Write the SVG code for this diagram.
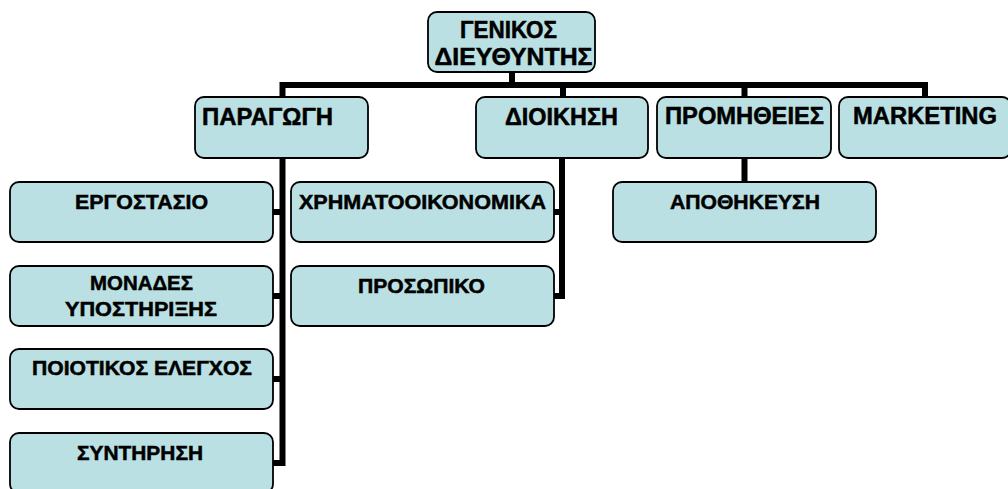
<svg xmlns="http://www.w3.org/2000/svg" width="1008" height="489" viewBox="0 0 1008 489">
<style>
.box{fill:#bae0e3;stroke:#000;stroke-width:1.8}
.t{font-family:"Liberation Sans",Arial,sans-serif;font-weight:bold;fill:#000;stroke:#000;stroke-width:0.5}
.m{font-size:23px}
.s{font-size:20px}
.c{text-anchor:middle}
.ln{stroke:#000;stroke-width:6;fill:none;stroke-linecap:butt}
</style>
<rect width="1008" height="489" fill="#fff"/>
<g id="connectors">
<path class="ln" d="M512 72V85M279.5 85H928M282.5 82V97M563 82V97M744.5 82V97M925 82V97"/>
<path class="ln" d="M282.5 158V466M272 212H285.5M272 296H285.5M272 379H285.5M272 463H285.5"/>
<path class="ln" d="M562 158V299M553 212H565M553 296H565"/>
<path class="ln" d="M744.5 158V182"/>
</g>
<g id="n-gd"><rect class="box" x="428" y="12" width="167" height="60" rx="9"/><text class="t m c" x="508.5" y="38" textLength="97" lengthAdjust="spacingAndGlyphs">ΓΕΝΙΚΟΣ</text><text class="t m c" x="513.5" y="65" textLength="158" lengthAdjust="spacingAndGlyphs">ΔΙΕΥΘΥΝΤΗΣ</text></g>
<g id="n-paragogi"><rect class="box" x="195" y="97" width="173" height="61" rx="9"/><text class="t m" x="202" y="125" textLength="131" lengthAdjust="spacingAndGlyphs">ΠΑΡΑΓΩΓΗ</text></g>
<g id="n-dioikisi"><rect class="box" x="476" y="97" width="172" height="61" rx="9"/><text class="t m c" x="561.5" y="125" textLength="113" lengthAdjust="spacingAndGlyphs">ΔΙΟΙΚΗΣΗ</text></g>
<g id="n-promitheies"><rect class="box" x="657" y="97" width="174" height="61" rx="9"/><text class="t m c" x="744.5" y="124" textLength="159" lengthAdjust="spacingAndGlyphs">ΠΡΟΜΗΘΕΙΕΣ</text></g>
<g id="n-marketing"><rect class="box" x="839" y="97" width="172" height="61" rx="9"/><text class="t m c" x="925" y="124" textLength="144" lengthAdjust="spacingAndGlyphs">MARKETING</text></g>
<g id="n-ergostasio"><rect class="box" x="10" y="182" width="263" height="60" rx="9"/><text class="t s c" x="141.5" y="209" textLength="133" lengthAdjust="spacingAndGlyphs">ΕΡΓΟΣΤΑΣΙΟ</text></g>
<g id="n-monades"><rect class="box" x="10" y="266" width="263" height="60" rx="9"/><text class="t s c" x="141.5" y="290" textLength="103" lengthAdjust="spacingAndGlyphs">ΜΟΝΑΔΕΣ</text><text class="t s c" x="141" y="316" textLength="152" lengthAdjust="spacingAndGlyphs">ΥΠΟΣΤΗΡΙΞΗΣ</text></g>
<g id="n-poiotikos"><rect class="box" x="10" y="349" width="263" height="60" rx="9"/><text class="t s c" x="142" y="375" textLength="220" lengthAdjust="spacingAndGlyphs">ΠΟΙΟΤΙΚΟΣ ΕΛΕΓΧΟΣ</text></g>
<g id="n-syntirisi"><rect class="box" x="10" y="433" width="263" height="60" rx="9"/><text class="t s c" x="140" y="460" textLength="126" lengthAdjust="spacingAndGlyphs">ΣΥΝΤΗΡΗΣΗ</text></g>
<g id="n-xrimato"><rect class="box" x="291" y="182" width="263" height="60" rx="9"/><text class="t s c" x="422.5" y="209" textLength="247" lengthAdjust="spacingAndGlyphs">ΧΡΗΜΑΤΟΟΙΚΟΝΟΜΙΚΑ</text></g>
<g id="n-prosopiko"><rect class="box" x="291" y="266" width="263" height="60" rx="9"/><text class="t s c" x="421.5" y="293" textLength="127" lengthAdjust="spacingAndGlyphs">ΠΡΟΣΩΠΙΚΟ</text></g>
<g id="n-apothikeusi"><rect class="box" x="613" y="182" width="263" height="60" rx="9"/><text class="t s c" x="745" y="209" textLength="150" lengthAdjust="spacingAndGlyphs">ΑΠΟΘΗΚΕΥΣΗ</text></g>
</svg>
